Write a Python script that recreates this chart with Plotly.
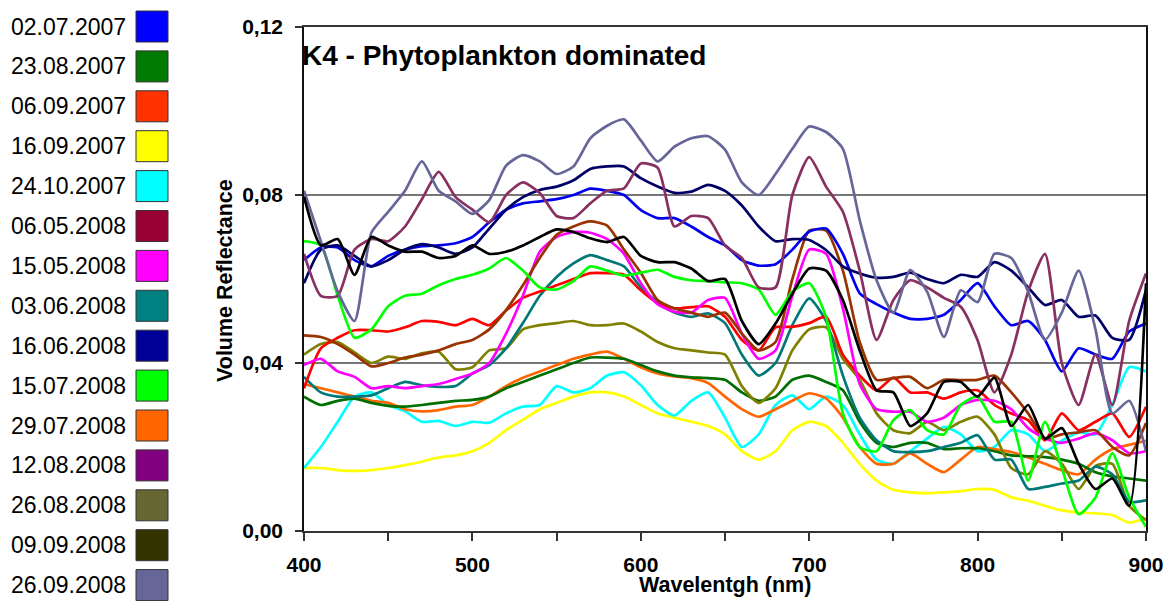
import plotly.graph_objects as go

# ---------------- data ----------------
wavelength = [400, 410, 420, 430, 440, 450, 460, 470, 480, 490,
              500, 510, 520, 530, 540, 550, 560, 570, 580, 590,
              600, 610, 620, 630, 640, 650, 660, 670, 680, 690,
              700, 710, 720, 730, 740, 750, 760, 770, 780, 790,
              800, 810, 820, 830, 840, 850, 860, 870, 880, 890, 900]

r_02_07_2007 = [0.0645, 0.0675, 0.0675, 0.0645, 0.063, 0.0655, 0.067, 0.0678, 0.068, 0.0685,
                0.070, 0.0735, 0.0765, 0.078, 0.0785, 0.079, 0.080, 0.0815, 0.081, 0.080,
                0.0764, 0.0745, 0.0745, 0.0725, 0.070, 0.068, 0.0645, 0.0632, 0.0635, 0.067,
                0.0713, 0.072, 0.066, 0.0566, 0.054, 0.052, 0.0505, 0.0505, 0.0515, 0.055,
                0.059, 0.0535, 0.049, 0.050, 0.0455, 0.038, 0.0435, 0.042, 0.041, 0.0475, 0.0494]

r_23_08_2007 = [0.032, 0.030, 0.031, 0.0315, 0.0305, 0.0298, 0.0296, 0.030, 0.0305, 0.031,
                0.0312, 0.032, 0.034, 0.0355, 0.037, 0.0385, 0.040, 0.0413, 0.0413, 0.041,
                0.0395, 0.038, 0.037, 0.0366, 0.0364, 0.036, 0.033, 0.031, 0.032, 0.036,
                0.037, 0.0355, 0.0335, 0.026, 0.021, 0.020, 0.021, 0.021, 0.0195, 0.0197,
                0.0197, 0.019, 0.018, 0.0178, 0.0176, 0.017, 0.016, 0.014, 0.013, 0.0125, 0.012]

r_06_09_2007 = [0.034, 0.0435, 0.046, 0.0478, 0.0478, 0.0475, 0.0485, 0.050, 0.0498, 0.049,
                0.0505, 0.049, 0.0525, 0.0555, 0.057, 0.0585, 0.060, 0.0614, 0.0614, 0.061,
                0.0573, 0.0542, 0.053, 0.0533, 0.0535, 0.051, 0.0455, 0.043, 0.0485, 0.0486,
                0.0495, 0.051, 0.042, 0.037, 0.0335, 0.0365, 0.033, 0.033, 0.0315, 0.033,
                0.0335, 0.030, 0.028, 0.0264, 0.0216, 0.028, 0.024, 0.026, 0.028, 0.0224, 0.0296]

r_16_09_2007 = [0.015, 0.015, 0.0145, 0.0143, 0.0145, 0.015, 0.0157, 0.0165, 0.0175, 0.018,
                0.019, 0.021, 0.024, 0.0265, 0.029, 0.0305, 0.032, 0.033, 0.033, 0.032,
                0.030, 0.028, 0.027, 0.026, 0.025, 0.023, 0.019, 0.017, 0.019, 0.024,
                0.026, 0.025, 0.021, 0.016, 0.012, 0.0098, 0.0092, 0.009, 0.0092, 0.0095,
                0.010, 0.0098, 0.008, 0.0072, 0.006, 0.0049, 0.0044, 0.0042, 0.0038, 0.002, 0.003]

r_24_10_2007 = [0.015, 0.020, 0.026, 0.032, 0.033, 0.030, 0.0285, 0.026, 0.0262, 0.025,
                0.026, 0.0258, 0.028, 0.0296, 0.030, 0.0345, 0.033, 0.034, 0.037, 0.0378,
                0.0347, 0.030, 0.0275, 0.031, 0.033, 0.027, 0.020, 0.023, 0.030, 0.0323,
                0.029, 0.032, 0.030, 0.023, 0.017, 0.016, 0.019, 0.022, 0.0248, 0.023,
                0.019, 0.020, 0.024, 0.023, 0.019, 0.0215, 0.0235, 0.023, 0.030, 0.039, 0.038]

r_06_05_2008 = [0.066, 0.056, 0.056, 0.067, 0.0695, 0.069, 0.0725, 0.079, 0.0855, 0.0795,
                0.0765, 0.0735, 0.080, 0.083, 0.0805, 0.075, 0.0745, 0.078, 0.081, 0.0816,
                0.0875, 0.0865, 0.0725, 0.075, 0.0745, 0.068, 0.065, 0.058, 0.058, 0.080,
                0.089, 0.082, 0.076, 0.062, 0.0455, 0.055, 0.0597, 0.058, 0.0555, 0.0534,
                0.0454, 0.033, 0.042, 0.057, 0.066, 0.040, 0.030, 0.042, 0.030, 0.050, 0.0613]

r_15_05_2008 = [0.0395, 0.041, 0.038, 0.0367, 0.034, 0.0345, 0.034, 0.0345, 0.035, 0.0362,
                0.0375, 0.040, 0.047, 0.056, 0.0665, 0.070, 0.0712, 0.071, 0.0695, 0.066,
                0.059, 0.054, 0.0522, 0.052, 0.055, 0.0555, 0.047, 0.041, 0.043, 0.056,
                0.067, 0.066, 0.053, 0.035, 0.029, 0.0284, 0.0284, 0.026, 0.027, 0.030,
                0.0312, 0.031, 0.029, 0.0245, 0.022, 0.021, 0.022, 0.0233, 0.0216, 0.0185, 0.019]

r_03_06_2008 = [0.0367, 0.033, 0.032, 0.032, 0.0323, 0.034, 0.0355, 0.0347, 0.0343, 0.0345,
                0.0375, 0.0395, 0.0435, 0.0495, 0.056, 0.0605, 0.0637, 0.0657, 0.0645, 0.063,
                0.058, 0.0545, 0.052, 0.051, 0.0518, 0.0495, 0.042, 0.037, 0.040, 0.049,
                0.0554, 0.050, 0.037, 0.027, 0.0216, 0.019, 0.0188, 0.019, 0.020, 0.021,
                0.0228, 0.017, 0.017, 0.010, 0.0105, 0.0113, 0.012, 0.0153, 0.0135, 0.007, 0.0073]

r_16_06_2008 = [0.059, 0.067, 0.068, 0.0655, 0.063, 0.0645, 0.067, 0.0683, 0.0675, 0.066,
                0.0675, 0.072, 0.0765, 0.0795, 0.0812, 0.082, 0.0835, 0.0862, 0.0868, 0.0868,
                0.084, 0.082, 0.0805, 0.0808, 0.0824, 0.081, 0.0775, 0.0725, 0.069, 0.0695,
                0.0693, 0.0669, 0.063, 0.0613, 0.0603, 0.0605, 0.0615, 0.060, 0.059, 0.061,
                0.0605, 0.064, 0.062, 0.058, 0.0538, 0.055, 0.051, 0.0513, 0.046, 0.0455, 0.0574]

r_15_07_2008 = [0.069, 0.068, 0.056, 0.046, 0.048, 0.0535, 0.056, 0.0565, 0.0585, 0.060,
                0.061, 0.0625, 0.065, 0.062, 0.058, 0.0575, 0.0595, 0.063, 0.062, 0.0608,
                0.0615, 0.0622, 0.0605, 0.0597, 0.0595, 0.0592, 0.059, 0.0575, 0.0515, 0.057,
                0.059, 0.051, 0.028, 0.020, 0.019, 0.0264, 0.0288, 0.024, 0.023, 0.030,
                0.032, 0.026, 0.026, 0.012, 0.026, 0.015, 0.004, 0.008, 0.0185, 0.008, 0.001]

r_29_07_2008 = [0.035, 0.034, 0.033, 0.032, 0.031, 0.0305, 0.029, 0.0285, 0.0288, 0.0296,
                0.030, 0.032, 0.0345, 0.0365, 0.038, 0.0395, 0.041, 0.042, 0.0427, 0.041,
                0.039, 0.0375, 0.0368, 0.0364, 0.0352, 0.032, 0.029, 0.0272, 0.029, 0.031,
                0.0328, 0.0316, 0.027, 0.020, 0.016, 0.016, 0.0185, 0.016, 0.014, 0.017,
                0.020, 0.0195, 0.0188, 0.0175, 0.016, 0.0145, 0.0135, 0.017, 0.0195, 0.0205, 0.0215]

r_26_08_2008 = [0.042, 0.0445, 0.045, 0.0425, 0.040, 0.0415, 0.041, 0.0423, 0.0427, 0.0385,
                0.039, 0.043, 0.0435, 0.048, 0.049, 0.0495, 0.050, 0.049, 0.049, 0.0494,
                0.0475, 0.045, 0.0435, 0.043, 0.0425, 0.042, 0.0345, 0.0305, 0.034, 0.043,
                0.048, 0.0485, 0.041, 0.036, 0.028, 0.024, 0.0233, 0.026, 0.024, 0.026,
                0.0272, 0.023, 0.015, 0.0135, 0.019, 0.016, 0.010, 0.0155, 0.016, 0.006, 0.0026]

r_09_09_2008 = [0.0796, 0.068, 0.0695, 0.061, 0.070, 0.068, 0.0665, 0.0665, 0.065, 0.0655,
                0.068, 0.066, 0.0665, 0.068, 0.070, 0.0718, 0.0712, 0.0697, 0.0688, 0.070,
                0.0655, 0.064, 0.064, 0.0625, 0.0595, 0.060, 0.050, 0.0445, 0.0494, 0.0565,
                0.0625, 0.062, 0.055, 0.043, 0.0335, 0.033, 0.025, 0.028, 0.0355, 0.0355,
                0.032, 0.0365, 0.025, 0.030, 0.022, 0.0245, 0.016, 0.010, 0.0125, 0.006, 0.059]

r_26_09_2008 = [0.081, 0.069, 0.057, 0.050, 0.071, 0.076, 0.081, 0.088, 0.081, 0.0785,
                0.0755, 0.0788, 0.087, 0.0895, 0.088, 0.085, 0.0868, 0.0935, 0.0965, 0.098,
                0.093, 0.088, 0.0915, 0.0935, 0.094, 0.0908, 0.083, 0.080, 0.085, 0.091,
                0.0963, 0.095, 0.091, 0.074, 0.0597, 0.052, 0.0621, 0.057, 0.0462, 0.0573,
                0.0545, 0.066, 0.065, 0.057, 0.0455, 0.052, 0.062, 0.048, 0.028, 0.031, 0.019]

# series beyond the visible part of the legend
r_extra_brown = [0.0466, 0.0462, 0.0445, 0.042, 0.0392, 0.040, 0.0413, 0.042, 0.043, 0.0445,
                 0.0455, 0.048, 0.0526, 0.0585, 0.065, 0.0705, 0.0725, 0.0737, 0.0727, 0.067,
                 0.0615, 0.055, 0.053, 0.052, 0.051, 0.052, 0.047, 0.043, 0.045, 0.060,
                 0.0715, 0.0715, 0.062, 0.045, 0.036, 0.0364, 0.0367, 0.034, 0.036, 0.0359,
                 0.036, 0.037, 0.033, 0.028, 0.022, 0.023, 0.0235, 0.024, 0.020, 0.018, 0.0257]

legend_labels = ["02.07.2007", "23.08.2007", "06.09.2007", "16.09.2007", "24.10.2007",
                 "06.05.2008", "15.05.2008", "03.06.2008", "16.06.2008", "15.07.2008",
                 "29.07.2008", "12.08.2008", "26.08.2008", "09.09.2008", "26.09.2008"]
legend_colors = ["#0000FF", "#007A00", "#FF3300", "#FFFF00", "#00FFFF",
                 "#990033", "#FF00FF", "#008080", "#000099", "#00FF00",
                 "#FF6600", "#800080", "#666633", "#333300", "#666699"]

# (name, values, line colour) in drawing order
series = [
    ("16.09.2007", r_16_09_2007, "#FFFF00"),
    ("24.10.2007", r_24_10_2007, "#00FFFF"),
    ("29.07.2008", r_29_07_2008, "#FF6600"),
    ("23.08.2007", r_23_08_2007, "#006E00"),
    ("26.08.2008", r_26_08_2008, "#808000"),
    ("03.06.2008", r_03_06_2008, "#007878"),
    ("06.09.2007", r_06_09_2007, "#FF0000"),
    ("15.05.2008", r_15_05_2008, "#FF00FF"),
    ("extra", r_extra_brown, "#993300"),
    ("15.07.2008", r_15_07_2008, "#00FF00"),
    ("02.07.2007", r_02_07_2007, "#0000EE"),
    ("16.06.2008", r_16_06_2008, "#000066"),
    ("06.05.2008", r_06_05_2008, "#883060"),
    ("26.09.2008", r_26_09_2008, "#666699"),
    ("09.09.2008", r_09_09_2008, "#000000"),
]

x_tickvals = [400, 450, 500, 550, 600, 650, 700, 750, 800, 850, 900]
x_ticktext = ["400", "", "500", "", "600", "", "700", "", "800", "", "900"]
y_tickvals = [0.0, 0.04, 0.08, 0.12]
y_ticktext = ["0,00", "0,04", "0,08", "0,12"]

# ---------------- figure ----------------
W, H = 1169, 601
L, R, T, B = 304, 23, 27, 70
pw, ph = W - L - R, H - T - B

fig = go.Figure()
for name, vals, col in series:
    fig.add_trace(go.Scatter(x=wavelength, y=vals, mode="lines", name=name,
                             line=dict(color=col, width=2.7, shape="spline", smoothing=0.6),
                             showlegend=False))

FONT = "Liberation Sans, Arial, sans-serif"

def px2paper_x(px):
    return (px - L) / pw

def py2paper_y(py):
    return (H - B - py) / ph

shapes = []
annotations = []
for i, (lab, col) in enumerate(zip(legend_labels, legend_colors)):
    cy = 26.5 + 39.9 * i
    shapes.append(dict(type="rect", xref="paper", yref="paper",
                       x0=px2paper_x(136), x1=px2paper_x(168),
                       y0=py2paper_y(cy + 15.5), y1=py2paper_y(cy - 15.5),
                       fillcolor=col, line=dict(color="#333333", width=1)))
    annotations.append(dict(text=lab, xref="paper", yref="paper",
                            x=px2paper_x(128), y=py2paper_y(cy),
                            xanchor="right", yanchor="middle", showarrow=False,
                            font=dict(family=FONT, size=23, color="black")))

annotations.append(dict(text="<b>K4 - Phytoplankton dominated</b>", xref="paper", yref="paper",
                        x=px2paper_x(300), y=py2paper_y(55), xanchor="left", yanchor="middle",
                        showarrow=False, font=dict(family=FONT, size=28, color="black")))

# axis titles
annotations.append(dict(text="<b>Wavelentgh (nm)</b>", xref="paper", yref="paper",
                        x=px2paper_x(725), y=py2paper_y(585), xanchor="center", yanchor="middle",
                        showarrow=False, font=dict(family=FONT, size=21.5, color="black")))
annotations.append(dict(text="<b>Volume Reflectance</b>", xref="paper", yref="paper",
                        x=px2paper_x(225), y=py2paper_y(281), xanchor="center", yanchor="middle",
                        textangle=-90, showarrow=False,
                        font=dict(family=FONT, size=21.5, color="black")))

fig.update_layout(
    width=W, height=H,
    margin=dict(l=L, r=R, t=T, b=B, autoexpand=False),
    paper_bgcolor="white", plot_bgcolor="white",
    showlegend=False,
    shapes=shapes, annotations=annotations,
    font=dict(family=FONT, color="black"),
)

fig.update_xaxes(range=[400, 900], tickmode="array", tickvals=x_tickvals, ticktext=x_ticktext,
                 ticks="outside", ticklen=8, tickwidth=1.5, tickcolor="#333333",
                 showline=True, linecolor="#333333", linewidth=1.5, mirror=True,
                 showgrid=False, zeroline=False, automargin=False,
                 tickfont=dict(family=FONT, size=21, color="black", weight="bold"),
                 ticklabelstandoff=6)

fig.update_yaxes(range=[0, 0.12], tickmode="array", tickvals=y_tickvals, ticktext=y_ticktext,
                 ticks="outside", ticklen=7, tickwidth=1.5, tickcolor="#333333",
                 showline=True, linecolor="#111111", linewidth=1.5, mirror=True,
                 showgrid=True, gridcolor="#777777", gridwidth=1.5, zeroline=False, automargin=False,
                 tickfont=dict(family=FONT, size=21, color="black", weight="bold"),
                 ticklabelstandoff=8)

fig.write_html("out.html")
